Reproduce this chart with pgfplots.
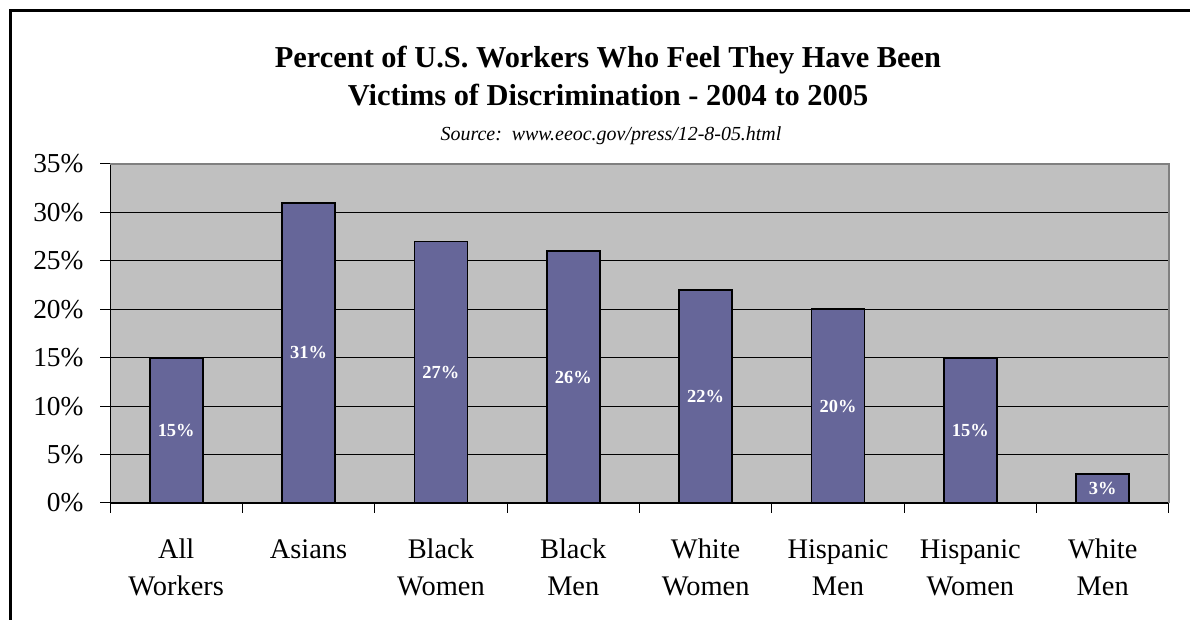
\documentclass[border=0pt]{standalone}
\usepackage{fontspec}
\setmainfont{Liberation Serif}
\usepackage{pgfplots}
\pgfplotsset{compat=1.18}
\definecolor{barcol}{RGB}{102,102,153}
\definecolor{plotbg}{RGB}{192,192,192}
\definecolor{bordergray}{RGB}{128,128,128}
\begin{document}
\begin{tikzpicture}[x=1bp,y=1bp]
\useasboundingbox (0,0) rectangle (1190,620);
\draw[line width=3bp] (10.5,0) -- (10.5,609.5) -- (1190,609.5);
\node[anchor=base,inner sep=0pt,font=\fontsize{30.5}{35}\selectfont\bfseries] at (608,552) {Percent of U.S. Workers Who Feel They Have Been};
\node[anchor=base,inner sep=0pt,font=\fontsize{30.5}{35}\selectfont\bfseries] at (608,514) {Victims of Discrimination - 2004 to 2005};
\node[anchor=base,inner sep=0pt,font=\fontsize{20}{24}\selectfont\itshape] at (611,479) {Source:\ \ www.eeoc.gov/press/12-8-05.html};
\begin{axis}[
  at={(110bp,117bp)}, anchor=south west,
  scale only axis, width=1059bp, height=339bp,
  xmin=-0.5, xmax=7.5, ymin=0, ymax=35,
  axis background/.style={fill=plotbg},
  axis x line*=bottom, axis y line*=left,
  axis line style={black,-,line width=1bp},
  ybar, bar width=53bp,
  ymajorgrids, major grid style={black,line width=0.9bp},
  ytick={0,5,...,35},
  /pgf/number format/assume math mode=true,
  yticklabel={\pgfmathprintnumber{\tick}\%},
  yticklabel style={font=\fontsize{27.5}{32}\selectfont, xshift=-13bp},
  tick align=outside, major tick length=10bp,
  tick style={black,line width=1bp},
  xtick={-0.5,0.5,...,7.5},
  x tick label as interval,
  xticklabels={{\strut All\\Workers},{\strut Asians},{\strut Black\\Women},{\strut Black\\Men},{\strut White\\Women},{\strut Hispanic\\Men},{\strut Hispanic\\Women},{\strut White\\Men}},
  xticklabel style={align=center, font=\fontsize{28.5}{37}\selectfont, yshift=-16.5bp},
  visualization depends on={y \as \rawy},
  nodes near coords={\pgfmathprintnumber{\pgfplotspointmeta}\%},
  every node near coord/.append style={font=\fontsize{18.5}{20}\selectfont\bfseries, text=white, anchor=center, yshift={-4.8429*\rawy*1bp}},
  after end axis/.code={\draw[bordergray,line width=1.2bp] (rel axis cs:0,1) -- (rel axis cs:1,1) -- (rel axis cs:1,0);},
]
\addplot[fill=barcol, draw=black, line width=1.7bp] coordinates {(0,15) (1,31) (2,27) (3,26) (4,22) (5,20) (6,15) (7,3)};
\end{axis}
\end{tikzpicture}
\end{document}
